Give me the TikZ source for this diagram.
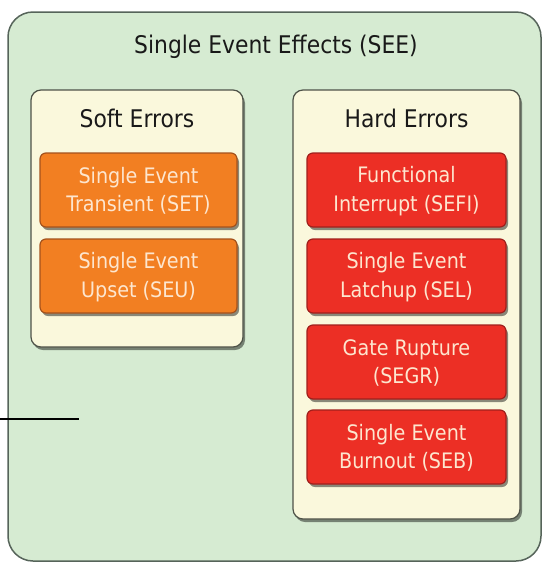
\documentclass[tikz,border=0pt]{standalone}
\usepackage{fontspec}
\setmainfont{DejaVu Sans Condensed}
\usetikzlibrary{shadows}
\definecolor{outerfill}{HTML}{D6EBD2}
\definecolor{outerline}{HTML}{56645A}
\definecolor{creamfill}{HTML}{FAF8DC}
\definecolor{creamline}{HTML}{4E5248}
\definecolor{orangefill}{HTML}{F27F22}
\definecolor{orangeline}{HTML}{A4521C}
\definecolor{redfill}{HTML}{EC2F25}
\definecolor{redline}{HTML}{A0201C}
\definecolor{boxtext}{HTML}{FDE6CF}
\tikzset{
  outerbox/.style={draw=outerline, fill=outerfill, line width=1.5pt, rounded corners=25pt},
  groupbox/.style={draw=creamline, fill=creamfill, line width=1.2pt, rounded corners=10pt,
    drop shadow={shadow xshift=2pt, shadow yshift=-3pt, opacity=0.45, fill=black}},
  effbox/.style={line width=1.2pt, rounded corners=6pt,
    drop shadow={shadow xshift=2pt, shadow yshift=-3pt, opacity=0.45, fill=black}},
  softbox/.style={effbox, draw=orangeline, fill=orangefill},
  hardbox/.style={effbox, draw=redline, fill=redfill},
  headtxt/.style={font=\fontsize{24.3}{28}\selectfont, text=black!90, inner sep=0pt, anchor=base},
  efftxt/.style={font=\fontsize{21.3}{28.5}\selectfont, text=boxtext, align=center, inner sep=0pt},
}
\begin{document}
\begin{tikzpicture}[x=1pt, y=-1pt]
\useasboundingbox (0,0) rectangle (544,563);
\draw[outerbox] (8,12) rectangle (541,561);
\node[headtxt] (see) at (276,53) {Single Event Effects (SEE)};
% soft errors group
\draw[groupbox] (31,90) rectangle (243,347);
\node[headtxt] (soft) at (137,127) {Soft Errors};
\draw[softbox] (40,153) rectangle (237,227);
\node[efftxt] (set) at (138.5,191) {Single Event\\Transient (SET)};
\draw[softbox] (40,239) rectangle (237,313);
\node[efftxt] (seu) at (138.5,277) {Single Event\\Upset (SEU)};
% hard errors group
\draw[groupbox] (293,90) rectangle (520,519);
\node[headtxt] (hard) at (406.5,127) {Hard Errors};
\draw[hardbox] (307,153) rectangle (506,227);
\node[efftxt] (sefi) at (406.5,191) {Functional\\Interrupt (SEFI)};
\draw[hardbox] (307,239) rectangle (506,313);
\node[efftxt] (sel) at (406.5,277) {Single Event\\Latchup (SEL)};
\draw[hardbox] (307,325) rectangle (506,399);
\node[efftxt] (segr) at (406.5,363) {Gate Rupture\\(SEGR)};
\draw[hardbox] (307,410) rectangle (506,484);
\node[efftxt] (seb) at (406.5,448) {Single Event\\Burnout (SEB)};
% stray line
\coordinate (la) at (0,419);
\coordinate (lb) at (79,419);
\draw[line width=1.3pt, black] (la) -- (lb);
\end{tikzpicture}
\end{document}
